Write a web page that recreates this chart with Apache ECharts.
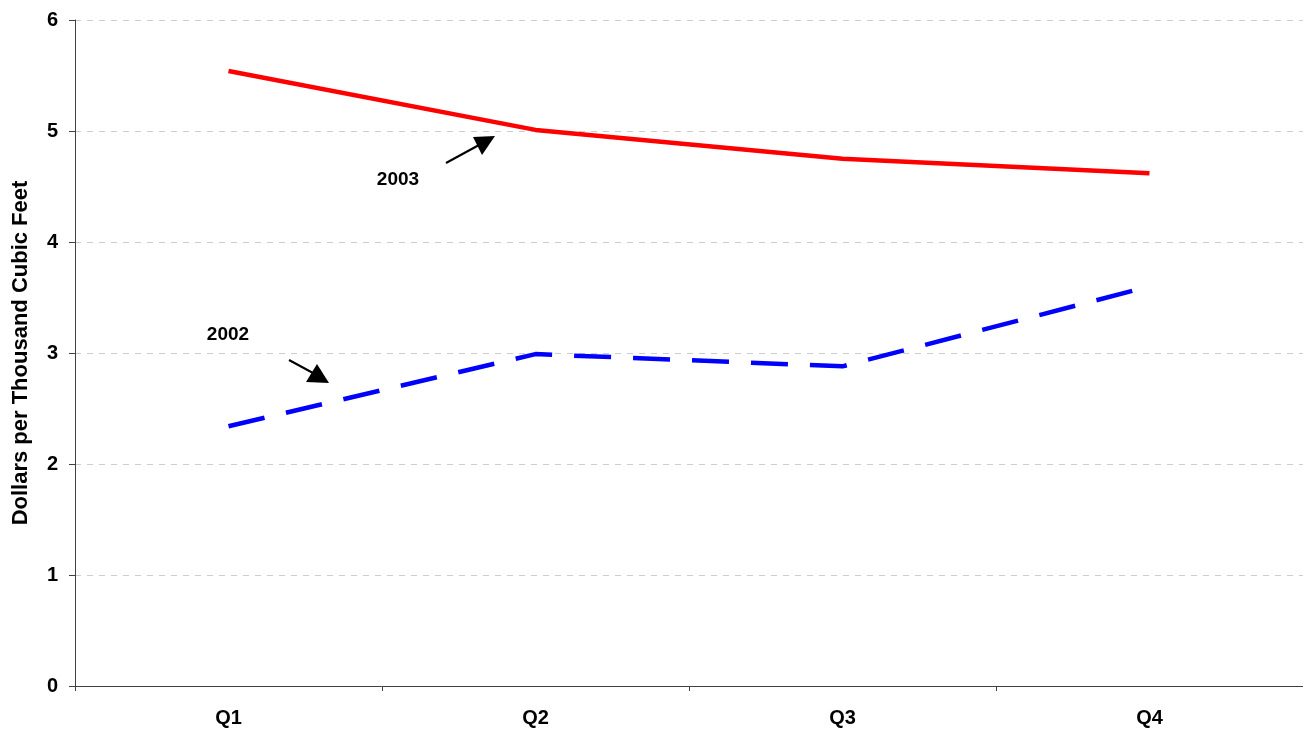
<!DOCTYPE html>
<html>
<head>
<meta charset="utf-8">
<script src="https://cdn.jsdelivr.net/npm/echarts@6/dist/echarts.min.js"></script>
<style>
  html, body { margin: 0; padding: 0; background: #fff; }
  #chart { width: 1303px; height: 730px; }
</style>
</head>
<body>
<div id="chart"></div>
<script>
// Quarterly prices, dollars per thousand cubic feet
const quarters = ['Q1', 'Q2', 'Q3', 'Q4'];
const prices2003 = [5.54, 5.01, 4.75, 4.62];
const prices2002 = [2.34, 2.99, 2.88, 3.60];
const yTicks = { min: 0, max: 6, interval: 1 };

const font = 'Liberation Sans, Arial, sans-serif';
const chart = echarts.init(document.getElementById('chart'), null, { renderer: 'canvas' });

chart.setOption({
  animation: false,
  backgroundColor: '#ffffff',
  grid: { left: 75, right: 0, top: 20, bottom: 44, containLabel: false, outerBoundsMode: 'none' },
  xAxis: {
    type: 'category',
    data: quarters,
    boundaryGap: true,
    axisLine: { lineStyle: { color: '#404040', width: 1 } },
    axisTick: { show: true, length: 5, inside: false, lineStyle: { color: '#404040' } },
    axisLabel: { color: '#000', fontFamily: font, fontWeight: 'bold', fontSize: 20, margin: 22 },
    splitLine: { show: false }
  },
  yAxis: {
    type: 'value',
    min: yTicks.min,
    max: yTicks.max,
    interval: yTicks.interval,
    name: 'Dollars per Thousand Cubic Feet',
    nameLocation: 'middle',
    nameGap: 43,
    nameTextStyle: { color: '#000', fontFamily: font, fontWeight: 'bold', fontSize: 22 },
    axisLine: { show: true, lineStyle: { color: '#404040', width: 1 } },
    axisTick: { show: true, length: 6, lineStyle: { color: '#404040' } },
    axisLabel: { color: '#000', fontFamily: font, fontWeight: 'bold', fontSize: 20, margin: 17 },
    splitLine: { show: true, lineStyle: { color: '#cccccc', type: [6, 6], width: 1 } }
  },
  series: [
    {
      name: '2003',
      type: 'line',
      data: prices2003,
      symbol: 'none',
      lineStyle: { color: '#ff0000', width: 4.5 },
      z: 3
    },
    {
      name: '2002',
      type: 'line',
      data: prices2002,
      symbol: 'none',
      lineStyle: { color: '#0000ff', width: 4.5, type: [37, 22] },
      z: 3
    }
  ],
  graphic: [
    // "2003" annotation with arrow
    { type: 'text', x: 398, y: 180, style: { text: '2003', font: 'bold 19px ' + font, fill: '#000', align: 'center', verticalAlign: 'middle' } },
    { type: 'line', shape: { x1: 446, y1: 163, x2: 479, y2: 145 }, style: { stroke: '#000', lineWidth: 2 } },
    { type: 'polygon', shape: { points: [[473, 137], [495, 136], [482, 155]] }, style: { fill: '#000' } },
    // "2002" annotation with arrow
    { type: 'text', x: 228, y: 335, style: { text: '2002', font: 'bold 19px ' + font, fill: '#000', align: 'center', verticalAlign: 'middle' } },
    { type: 'line', shape: { x1: 289, y1: 360, x2: 313, y2: 373 }, style: { stroke: '#000', lineWidth: 2 } },
    { type: 'polygon', shape: { points: [[317, 364], [306, 382], [329, 383]] }, style: { fill: '#000' } }
  ]
});
</script>
</body>
</html>
